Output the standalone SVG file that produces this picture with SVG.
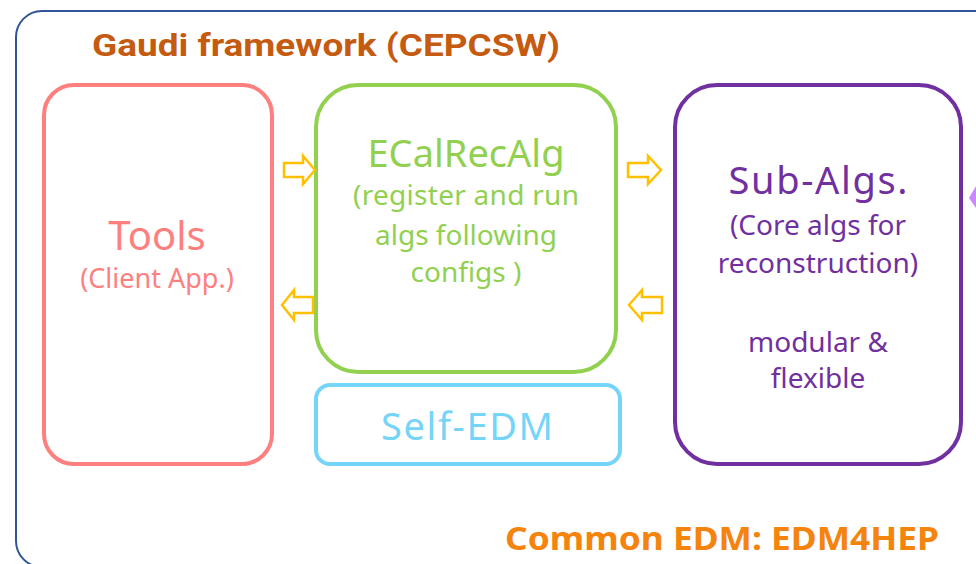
<svg xmlns="http://www.w3.org/2000/svg" width="976" height="564" viewBox="0 0 976 564">
<style>
.t{font-family:"Noto Sans","Open Sans","Liberation Sans",sans-serif;text-anchor:middle}
.arr{fill:none;stroke:#FFC000;stroke-width:2.5;stroke-linejoin:miter}
</style>
<rect width="976" height="564" fill="#fff"/>
<g id="framework">
<rect x="16" y="11" width="1000" height="556" rx="26" fill="none" stroke="#2F5597" stroke-width="2"/>
<text x="326" y="56" font-family="Roboto,'Liberation Sans',sans-serif" font-weight="bold" font-size="32" fill="#C55A11" text-anchor="middle" textLength="468" lengthAdjust="spacingAndGlyphs">Gaudi framework (CEPCSW)</text>
<text x="722" y="550" font-family="'Noto Sans','Liberation Sans',sans-serif" font-weight="bold" font-size="32" fill="#F5840F" text-anchor="middle" textLength="434" lengthAdjust="spacingAndGlyphs">Common EDM: EDM4HEP</text>
</g>
<g id="tools">
<rect x="44" y="85" width="228" height="379" rx="30" fill="none" stroke="#FF7F7F" stroke-width="4"/>
<text class="t" x="157" y="250" font-size="40" fill="#FF7F7F">Tools</text>
<text class="t" x="157" y="288" font-size="27" fill="#FF7F7F">(Client App.)</text>
</g>
<g id="ecalrecalg">
<rect x="316" y="85" width="300" height="287" rx="42" fill="none" stroke="#92D050" stroke-width="4"/>
<text class="t" x="466" y="167" font-size="38" fill="#92D050">ECalRecAlg</text>
<text class="t" x="466" y="205" font-size="28" fill="#92D050" textLength="226">(register and run</text>
<text class="t" x="466" y="245" font-size="28" fill="#92D050">algs following</text>
<text class="t" x="466" y="282" font-size="28" fill="#92D050">configs )</text>
</g>
<g id="selfedm">
<rect x="316" y="385" width="304" height="79" rx="14" fill="none" stroke="#75D5F8" stroke-width="4"/>
<text class="t" x="467" y="440" font-size="38" fill="#75D5F8" textLength="172">Self-EDM</text>
</g>
<g id="subalgs">
<rect x="675" y="85" width="286" height="379" rx="42" fill="none" stroke="#7030A0" stroke-width="4"/>
<text class="t" x="818" y="194" font-size="38" fill="#7030A0" textLength="179">Sub-Algs.</text>
<text class="t" x="818" y="235" font-size="28" fill="#7030A0">(Core algs for</text>
<text class="t" x="818" y="273" font-size="28" fill="#7030A0">reconstruction)</text>
<text class="t" x="818" y="352" font-size="28" fill="#7030A0">modular &amp;</text>
<text class="t" x="818" y="388" font-size="28" fill="#7030A0">flexible</text>
</g>
<g id="connectors">
<path class="arr" d="M284,163 H303 V156 L315,170 L303,184 V177 H284 Z"/>
<path class="arr" d="M313,297 H294 V290 L282,305 L294,320 V313 H313 Z"/>
<path class="arr" d="M628,163 H648 V156 L661,170 L648,184 V177 H628 Z"/>
<path class="arr" d="M662,297 H642 V290 L629,305 L642,320 V313 H662 Z"/>
<path d="M976,186 L969,198 L976,208 Z" fill="#CC88FF"/>
</g>
</svg>
